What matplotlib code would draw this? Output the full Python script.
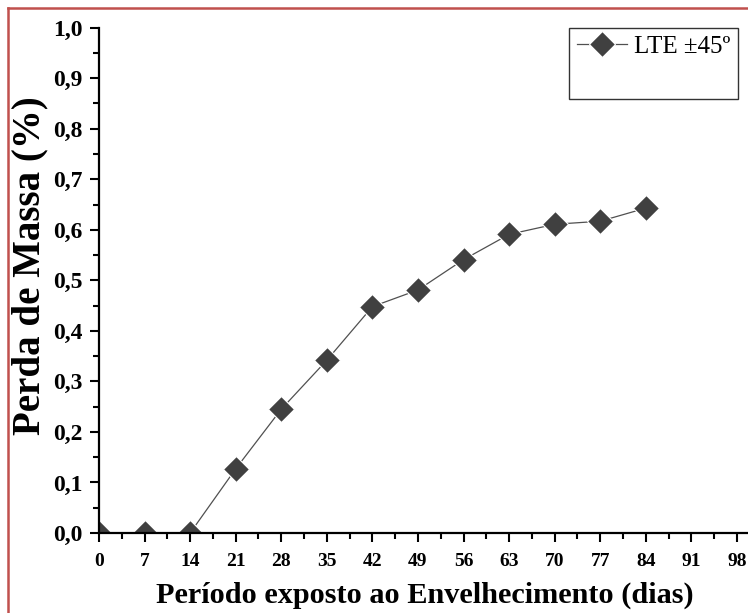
import matplotlib
matplotlib.use('Agg')
import matplotlib.pyplot as plt
from matplotlib.lines import Line2D
from matplotlib.ticker import MultipleLocator, FuncFormatter

# dias de envelhecimento e perda de massa (%)
dias = [0, 7, 14, 21, 28, 35, 42, 49, 56, 63, 70, 77, 84]
perda = [0.0, 0.0, 0.0, 0.127, 0.245, 0.342, 0.448, 0.481, 0.541, 0.591, 0.611, 0.617, 0.643]
serie = 'LTE ±45º'

plt.rcParams['font.family'] = ['Liberation Serif', 'DejaVu Serif']

fig = plt.figure(figsize=(7.48, 6.13), dpi=100)
ax = fig.add_axes([99 / 748, 80 / 613, 651 / 748, 505.3 / 613])

ax.plot(dias, perda, color='#505050', lw=0.9, marker='D', markersize=13,
        markerfacecolor='#404040', markeredgecolor='white', markeredgewidth=0.8,
        label=serie)

ax.set_xlim(0, 100)
ax.set_ylim(0, 1.0)
ax.xaxis.set_major_locator(MultipleLocator(7))
ax.xaxis.set_minor_locator(MultipleLocator(3.5))
ax.yaxis.set_major_locator(MultipleLocator(0.1))
ax.yaxis.set_minor_locator(MultipleLocator(0.05))
ax.yaxis.set_major_formatter(FuncFormatter(lambda v, p: f'{v:.1f}'.replace('.', ',')))
ax.xaxis.set_major_formatter(FuncFormatter(lambda v, p: f'{v:.0f}'))

for s in ['top', 'right']:
    ax.spines[s].set_visible(False)
for s in ['left', 'bottom']:
    ax.spines[s].set_linewidth(1.6)

ax.tick_params(which='major', direction='out', length=6.5, width=1.5)
ax.tick_params(which='minor', direction='out', length=4, width=1.5)
ax.tick_params(axis='x', labelsize=14, pad=8)
ax.tick_params(axis='y', labelsize=17, pad=5.5)
for lab in ax.get_xticklabels() + ax.get_yticklabels():
    lab.set_fontweight('bold')

ax.set_xlabel('Período exposto ao Envelhecimento (dias)', fontsize=21.8, fontweight='bold', labelpad=8)
ax.set_ylabel('Perda de Massa (%)', fontsize=28, fontweight='bold')
ax.yaxis.set_label_coords(-0.078, 0.529)

handles, labels = ax.get_legend_handles_labels()
handles.append(Line2D([], [], alpha=0))
labels.append(' ')
leg = ax.legend(handles, labels, loc='upper right', bbox_to_anchor=(639 / 651, 1.0),
                fontsize=18, frameon=True, fancybox=False, edgecolor='black',
                handlelength=2.0, handletextpad=0.3, borderpad=0.3, labelspacing=0.45,
                borderaxespad=0)
leg.get_frame().set_linewidth(1.0)

# moldura vermelha
fig.add_artist(Line2D([8 / 748, 8 / 748], [0, 1 - 8 / 613], transform=fig.transFigure,
                      color='#c0504d', lw=1.8))
fig.add_artist(Line2D([8 / 748, 1], [1 - 8 / 613, 1 - 8 / 613], transform=fig.transFigure,
                      color='#c0504d', lw=1.8))

fig.savefig('out.png', dpi=100)
